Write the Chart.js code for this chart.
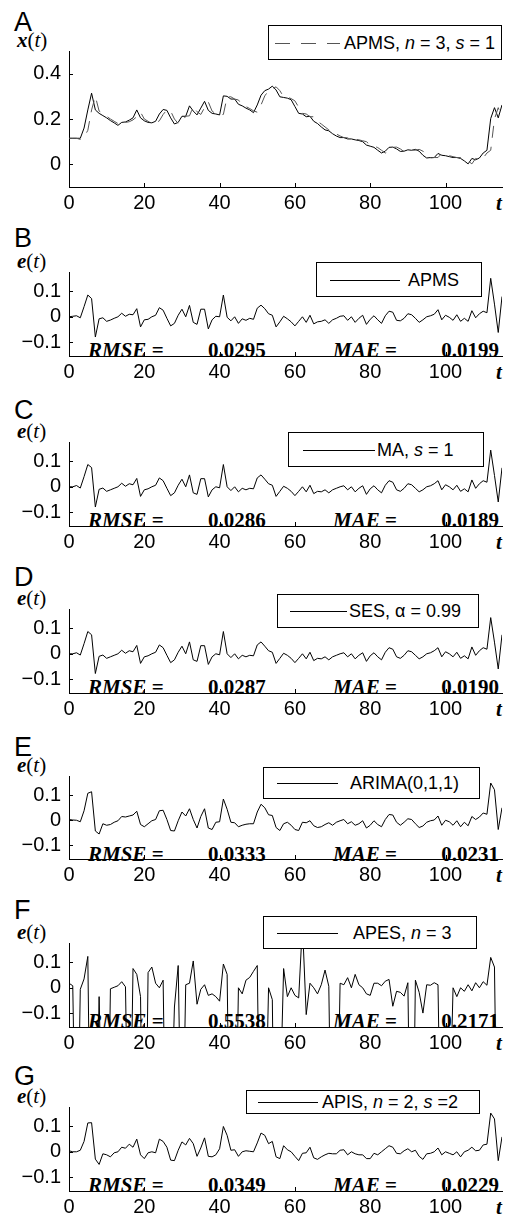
<!DOCTYPE html>
<html>
<head>
<meta charset="utf-8">
<script src="https://cdn.jsdelivr.net/npm/chart.js@4.4.0/dist/chart.umd.min.js"></script>
<style>
  body { margin: 0; background: #fff; }
  #fig { position: relative; width: 510px; height: 1218px; overflow: hidden; font-family: 'Liberation Sans', Arial, sans-serif; color: #000; }
  .cv { position: absolute; left: 0; z-index: 1; }
  .letter { position: absolute; left: 14px; font-size: 27px; line-height: 1; z-index: 0; }
  .ylab { position: absolute; left: 17px; font-family: 'Liberation Serif', serif; font-size: 21px; line-height: 1; white-space: nowrap; }
  .tlab { position: absolute; left: 496px; font: bold italic 21px 'Liberation Serif', serif; line-height: 1; }
  .stat { position: absolute; font: bold 21px 'Liberation Serif', serif; line-height: 1; z-index: 0; white-space: nowrap; }
  .leg { position: absolute; z-index: 2; background: #fff; border: 1px solid #000; box-sizing: border-box; }
  .leg .ln { position: absolute; top: 50%; height: 0; border-top: 1px solid #000; }
  .leg .dl { position: absolute; top: 50%; height: 1px; background: repeating-linear-gradient(to right, #555 0 15px, transparent 15px 26px); }
  .leg .tx { position: absolute; top: 50%; transform: translateY(-50%); font-size: 18px; line-height: 1; white-space: nowrap; }
</style>
</head>
<body>
<div id="fig"></div>
<script>
// time steps and tick values
const steps = Array.from({ length: 116 }, (_, i) => i);
const xTickVals = [0, 20, 40, 60, 80, 100];
const yTicksX = [0, 0.2, 0.4];
const yTicksE = [-0.1, 0, 0.1];

// panel A: series x(t) and APMS forecast (dashed)
const seriesX = [
  0.115, 0.115, 0.115, 0.115, 0.16, 0.24, 0.314, 0.24, 0.225, 0.215,
  0.205, 0.193, 0.183, 0.172, 0.185, 0.187, 0.195, 0.205, 0.24, 0.205,
  0.192, 0.185, 0.183, 0.19, 0.222, 0.242, 0.238, 0.205, 0.178, 0.185,
  0.212, 0.212, 0.258, 0.235, 0.218, 0.248, 0.278, 0.238, 0.225, 0.222,
  0.218, 0.302, 0.3, 0.288, 0.288, 0.265, 0.258, 0.248, 0.24, 0.228,
  0.262, 0.305, 0.325, 0.332, 0.345, 0.328, 0.298, 0.295, 0.292, 0.285,
  0.255, 0.225, 0.222, 0.21, 0.212, 0.19, 0.18, 0.165, 0.152, 0.148,
  0.135, 0.125, 0.118, 0.118, 0.112, 0.112, 0.108, 0.105, 0.1, 0.085,
  0.08, 0.075, 0.062, 0.05, 0.058, 0.075, 0.076, 0.068, 0.057, 0.058,
  0.064, 0.062, 0.066, 0.058, 0.04, 0.028, 0.03, 0.03, 0.048, 0.04,
  0.038, 0.034, 0.03, 0.03, 0.026, 0.015, 0.002, 0.026, 0.02, 0.028,
  0.05, 0.062, 0.202, 0.25, 0.205, 0.262
];
const forecastAPMS = [
  0.115, 0.115, 0.115, 0.11, 0.12, 0.15, 0.24, 0.3, 0.235, 0.225,
  0.212, 0.2, 0.19, 0.18, 0.172, 0.185, 0.188, 0.196, 0.21, 0.23,
  0.2, 0.19, 0.182, 0.183, 0.192, 0.22, 0.24, 0.235, 0.2, 0.18,
  0.188, 0.212, 0.214, 0.255, 0.232, 0.22, 0.25, 0.275, 0.235, 0.222,
  0.218, 0.22, 0.298, 0.298, 0.288, 0.284, 0.262, 0.255, 0.246, 0.236,
  0.23, 0.262, 0.302, 0.325, 0.333, 0.342, 0.325, 0.298, 0.296, 0.29,
  0.28, 0.252, 0.225, 0.222, 0.21, 0.21, 0.19, 0.178, 0.165, 0.152,
  0.146, 0.134, 0.125, 0.118, 0.117, 0.112, 0.112, 0.108, 0.104, 0.1,
  0.085, 0.08, 0.074, 0.062, 0.05, 0.058, 0.075, 0.076, 0.068, 0.056,
  0.058, 0.064, 0.062, 0.066, 0.058, 0.04, 0.028, 0.03, 0.03, 0.048,
  0.04, 0.038, 0.034, 0.03, 0.03, 0.026, 0.015, 0.002, 0.026, 0.02,
  0.028, 0.05, 0.062, 0.2, 0.25, 0.205
];

// panels B-G: forecast errors e(t)
const errAPMS = [
  0.0, 0.002, 0.004, -0.004, 0.04, 0.086, 0.072, -0.08, -0.008, -0.004,
  -0.018, -0.013, -0.006, 0.0, 0.014, 0.002, 0.01, 0.008, 0.032, -0.04,
  -0.012, -0.01, 0.0, 0.006, 0.036, 0.026, -0.006, -0.036, -0.026, 0.006,
  0.03, 0.0, 0.045, -0.022, -0.03, 0.03, 0.03, -0.048, -0.012, 0.002,
  0.0, 0.086, -0.002, -0.016, 0.0, -0.026, -0.008, -0.014, -0.006, -0.01,
  0.034, 0.046, 0.032, 0.012, 0.006, -0.04, -0.02, 0.002, -0.008, -0.02,
  -0.036, -0.018, 0.0, -0.022, 0.006, -0.028, -0.02, -0.018, -0.012, -0.026,
  -0.012, -0.006, 0.002, 0.004, -0.014, 0.0, -0.022, -0.006, 0.006, -0.03,
  -0.01, 0.004, -0.012, -0.026, 0.004, 0.022, 0.018, -0.014, -0.016, -0.006,
  0.012, 0.008, -0.006, -0.022, -0.012, 0.0, 0.004, 0.01, 0.028, -0.012,
  0.006, -0.002, -0.014, 0.008, -0.018, -0.006, -0.018, 0.024, -0.004, 0.012,
  0.022, 0.016, 0.152, 0.05, -0.062, 0.08
];
const errMA = [
  0.0, 0.0, 0.005, -0.005, 0.04, 0.088, 0.076, -0.08, -0.01, -0.005,
  -0.018, -0.012, -0.006, 0.0, 0.014, 0.002, 0.012, 0.008, 0.033, -0.038,
  -0.012, -0.008, 0.0, 0.006, 0.035, 0.024, -0.006, -0.035, -0.024, 0.006,
  0.03, 0.0, 0.047, -0.024, -0.03, 0.032, 0.032, -0.04, -0.012, 0.0,
  -0.004, 0.088, 0.0, -0.015, 0.0, -0.02, -0.006, -0.012, -0.006, -0.008,
  0.035, 0.047, 0.03, 0.012, 0.006, -0.038, -0.018, 0.002, -0.006, -0.018,
  -0.035, -0.018, 0.0, -0.02, 0.006, -0.027, -0.018, -0.02, -0.012, -0.024,
  -0.012, -0.006, 0.0, 0.004, -0.012, 0.0, -0.02, -0.006, 0.004, -0.03,
  -0.008, 0.004, -0.012, -0.024, 0.006, 0.024, 0.018, -0.012, -0.018, -0.006,
  0.012, 0.008, -0.006, -0.02, -0.012, 0.0, 0.004, 0.012, 0.024, -0.012,
  0.008, 0.0, -0.012, 0.006, -0.018, -0.008, -0.02, 0.027, -0.006, 0.012,
  0.024, 0.018, 0.145, 0.045, -0.06, 0.075
];
const errSES = [
  0.0, 0.0, 0.004, -0.005, 0.04, 0.088, 0.075, -0.078, -0.01, -0.005,
  -0.018, -0.012, -0.006, 0.0, 0.014, 0.002, 0.012, 0.008, 0.033, -0.038,
  -0.012, -0.008, 0.0, 0.006, 0.035, 0.024, -0.006, -0.035, -0.024, 0.006,
  0.03, 0.0, 0.047, -0.024, -0.03, 0.032, 0.032, -0.042, -0.012, 0.0,
  -0.004, 0.088, 0.0, -0.015, 0.0, -0.02, -0.006, -0.012, -0.006, -0.008,
  0.035, 0.047, 0.03, 0.012, 0.006, -0.038, -0.018, 0.002, -0.006, -0.018,
  -0.035, -0.018, 0.0, -0.02, 0.006, -0.027, -0.018, -0.02, -0.012, -0.024,
  -0.012, -0.006, 0.0, 0.004, -0.012, 0.0, -0.02, -0.006, 0.004, -0.03,
  -0.008, 0.004, -0.012, -0.024, 0.006, 0.024, 0.018, -0.012, -0.018, -0.006,
  0.012, 0.008, -0.006, -0.02, -0.012, 0.0, 0.004, 0.012, 0.024, -0.012,
  0.008, 0.0, -0.012, 0.006, -0.018, -0.008, -0.02, 0.027, -0.006, 0.012,
  0.024, 0.018, 0.143, 0.046, -0.06, 0.075
];
const errARIMA = [
  0.003, 0.001, 0.0, -0.006, 0.038, 0.108, 0.114, -0.043, -0.055, -0.014,
  -0.02, -0.017, -0.008, -0.002, 0.015, 0.013, 0.017, 0.021, 0.036, -0.017,
  -0.026, -0.014, -0.002, 0.003, 0.038, 0.04, 0.003, -0.041, -0.043, -0.002,
  0.033, 0.017, 0.046, 0.003, -0.031, 0.015, 0.046, -0.031, -0.037, -0.008,
  -0.006, 0.085, 0.044, -0.008, -0.01, -0.026, -0.02, -0.016, -0.014, -0.014,
  0.033, 0.064, 0.05, 0.022, 0.019, -0.029, -0.041, -0.014, -0.008, -0.02,
  -0.037, -0.041, -0.008, -0.01, -0.002, -0.022, -0.029, -0.026, -0.017, -0.01,
  -0.02, -0.008, -0.002, 0.003, -0.014, -0.006, -0.02, -0.014, -0.002, -0.031,
  -0.02, -0.002, -0.017, -0.026, 0.003, 0.023, 0.021, -0.008, -0.02, -0.008,
  0.006, 0.003, -0.014, -0.029, -0.023, -0.008, -0.002, 0.001, 0.017, -0.02,
  0.0, -0.006, -0.02, -0.002, -0.026, -0.008, -0.022, 0.015, 0.003, 0.013,
  0.029, 0.024, 0.149, 0.122, -0.037, 0.05
];
const errAPES = [
  0.018, 0.008, -0.9, -0.006, 0.035, 0.124, -1.1, -0.8, -0.035, -0.7,
  -1.0, -0.004, 0.002, 0.008, 0.024, 0.004, -0.9, 0.076, 0.053, -0.035,
  -1.2, 0.06, 0.082, 0.018, 0.0, 0.03, -1.0, -0.6, -0.076, 0.088,
  -0.8, 0.012, 0.018, 0.106, -0.065, -0.006, 0.012, -0.03, -0.024, -0.035,
  -0.053, 0.094, 0.053, -1.1, -0.9, 0.0, -0.024, 0.03, 0.041, 0.065,
  0.088, -1.0, -0.7, 0.0, -0.047, -1.3, -0.5, 0.076, -0.035, 0.0,
  -0.03, -0.04, 0.25, -0.106, 0.018, 0.0, -0.024, 0.012, 0.07, 0.006,
  -1.0, -0.8, 0.018, 0.012, 0.04, 0.0, 0.053, 0.012, 0.0, -0.024,
  -0.03, 0.018, 0.018, 0.008, 0.026, 0.033, -0.073, -0.014, -0.018, -0.033,
  0.02, -1.1, 0.03, -0.018, -0.1, 0.012, 0.01, 0.02, 0.012, -0.9,
  -1.2, -0.6, 0.0, -0.035, 0.0, -0.014, 0.012, -0.012, 0.02, 0.0,
  0.024, 0.01, 0.12, 0.082, -1.0, -0.7
];
const errAPIS = [
  0.004, 0.0, 0.0, 0.006, 0.041, 0.114, 0.115, -0.029, -0.05, -0.008,
  -0.012, -0.02, -0.004, 0.0, 0.018, 0.014, 0.03, 0.018, 0.05, -0.012,
  -0.027, -0.004, 0.0, -0.004, 0.05, 0.041, 0.018, -0.033, -0.035, 0.006,
  0.039, 0.027, 0.053, 0.032, -0.018, 0.015, 0.055, -0.018, -0.02, -0.012,
  0.012, 0.1, 0.065, 0.006, 0.008, -0.018, 0.0, 0.004, 0.002, 0.0,
  0.035, 0.074, 0.065, 0.032, 0.041, -0.02, -0.027, 0.024, 0.008, 0.0,
  -0.018, -0.035, -0.006, -0.004, 0.018, -0.024, -0.03, -0.02, -0.012, -0.006,
  -0.008, -0.008, 0.006, 0.008, -0.012, 0.0, -0.008, -0.012, -0.012, -0.027,
  -0.027, -0.006, -0.012, 0.0, 0.012, 0.024, 0.018, -0.006, -0.008, 0.004,
  0.012, 0.0, 0.006, -0.018, -0.03, -0.008, -0.006, 0.0, 0.015, -0.012,
  0.0, -0.006, -0.012, 0.0, -0.02, 0.0, 0.006, 0.018, 0.004, 0.006,
  0.027, 0.03, 0.153, 0.13, -0.035, 0.059
];

const legendText = [
  'APMS, <i>n</i> = 3, <i>s</i> = 1',
  'APMS',
  'MA, <i>s</i> = 1',
  'SES, \u03b1 = 0.99',
  'ARIMA(0,1,1)',
  'APES, <i>n</i> = 3',
  'APIS, <i>n</i> = 2, <i>s</i> =2'
];
const rmseVals = ['0.0295', '0.0286', '0.0287', '0.0333', '0.5538', '0.0349'];
const maeVals = ['0.0199', '0.0189', '0.0190', '0.0231', '0.2171', '0.0229'];

// layout of each panel (pixels)
const panels = [
  { letter: 'A', top: 41, h: 146, min: -0.1, max: 0.5, yTicks: yTicksX, series: [forecastAPMS, seriesX], dashFirst: true,
    base: 32, leg: { x: 268, y: 25, w: 234, h: 35, l0: 275, l1: 340, tx: 344 } },
  { letter: 'B', top: 262, h: 94, series: [errAPMS], base: 248, leg: { x: 316, y: 262, w: 166, h: 35, l0: 330, l1: 400, tx: 408 } },
  { letter: 'C', top: 432, h: 94, series: [errMA], base: 420, leg: { x: 288, y: 432, w: 196, h: 35, l0: 303, l1: 375, tx: 377 } },
  { letter: 'D', top: 599, h: 94, series: [errSES], base: 587, leg: { x: 277, y: 594, w: 202, h: 34, l0: 290, l1: 347, tx: 349 } },
  { letter: 'E', top: 766, h: 93, series: [errARIMA], base: 757, leg: { x: 263, y: 767, w: 217, h: 32, l0: 277, l1: 338, tx: 350 } },
  { letter: 'F', top: 933, h: 94, series: [errAPES], base: 920, leg: { x: 263, y: 916, w: 214, h: 33, l0: 277, l1: 338, tx: 353 } },
  { letter: 'G', top: 1097, h: 94, series: [errAPIS], base: 1086, leg: { x: 246, y: 1090, w: 234, h: 24, l0: 258, l1: 318, tx: 322 } }
];

const fig = document.getElementById('fig');
const PAD_TOP = 10;
const X_AREA = 36;

const innerTicks = {
  id: 'innerTicks',
  afterDraw(chart) {
    const { ctx, chartArea: a, scales: { x, y } } = chart;
    ctx.save();
    ctx.strokeStyle = '#000';
    ctx.lineWidth = 1;
    ctx.beginPath();
    x.ticks.forEach(t => {
      const px = Math.round(x.getPixelForValue(t.value)) + 0.5;
      ctx.moveTo(px, a.bottom);
      ctx.lineTo(px, a.bottom - 4);
    });
    y.ticks.forEach(t => {
      const py = Math.round(y.getPixelForValue(t.value)) + 0.5;
      ctx.moveTo(a.left, py);
      ctx.lineTo(a.left + 4, py);
    });
    ctx.stroke();
    ctx.restore();
  }
};

function fmt(v) {
  const s = String(Math.round(v * 100) / 100);
  return v < 0 ? '\u2212' + s.slice(1) : s;
}

function add(cls, css, html) {
  const d = document.createElement('div');
  d.className = cls;
  Object.assign(d.style, css);
  d.innerHTML = html;
  fig.appendChild(d);
  return d;
}

panels.forEach((p, i) => {
  const isA = i === 0;
  const yMin = isA ? p.min : -0.155;
  const yMax = isA ? p.max : 0.177;
  const yTicks = p.yTicks || yTicksE;

  // text around the axes
  add('letter', { top: (p.base - 23) + 'px' }, p.letter);
  add('ylab', { top: (p.top - 11) + 'px' }, isA ? '<b><i>x</i></b>(<i>t</i>)' : '<b><i>e</i></b>(<i>t</i>)');
  add('tlab', { top: (p.top + p.h + 6) + 'px' }, 't');

  if (!isA) {
    const sy = (p.top + 78) + 'px';
    add('stat', { top: sy, left: '88px' }, '<i>RMSE</i> =');
    add('stat', { top: sy, left: '208px' }, rmseVals[i - 1]);
    add('stat', { top: sy, left: '333px' }, '<i>MAE</i> =');
    add('stat', { top: sy, right: '11px' }, maeVals[i - 1]);
  }

  // legend box
  const L = p.leg;
  const leg = add('leg', { left: L.x + 'px', top: L.y + 'px', width: L.w + 'px', height: L.h + 'px' }, '');
  const ln = document.createElement('span');
  ln.className = isA ? 'dl' : 'ln';
  ln.style.left = (L.l0 - L.x - 1) + 'px';
  ln.style.width = (L.l1 - L.l0) + 'px';
  leg.appendChild(ln);
  const tx = document.createElement('span');
  tx.className = 'tx';
  tx.style.left = (L.tx - L.x - 1) + 'px';
  tx.innerHTML = legendText[i];
  leg.appendChild(tx);

  // chart canvas
  const cv = document.createElement('canvas');
  cv.className = 'cv';
  cv.width = 510;
  cv.height = p.h + PAD_TOP + X_AREA;
  cv.style.top = (p.top - PAD_TOP) + 'px';
  fig.appendChild(cv);

  const datasets = p.series.map((s, k) => {
    const dashed = p.dashFirst && k === 0;
    return {
      data: s,
      borderColor: dashed ? '#555' : '#000',
      borderWidth: 1,
      borderDash: dashed ? [12, 9] : [],
      pointRadius: 0,
      tension: 0,
      fill: false
    };
  });

  new Chart(cv, {
    type: 'line',
    data: { labels: steps, datasets },
    options: {
      responsive: false,
      animation: false,
      devicePixelRatio: 1,
      layout: { padding: { top: PAD_TOP, right: 8, left: 0, bottom: 0 } },
      plugins: { legend: { display: false }, tooltip: { enabled: false } },
      scales: {
        x: {
          type: 'linear',
          min: 0,
          max: 115,
          afterBuildTicks: s => { s.ticks = xTickVals.map(v => ({ value: v })); },
          afterFit: s => { s.height = X_AREA; },
          grid: { display: false, drawTicks: false },
          border: { display: true, color: '#000', width: 1 },
          ticks: { color: '#000', padding: 4, maxRotation: 0, font: { family: 'Liberation Sans', size: 20 }, callback: v => fmt(v) }
        },
        y: {
          min: yMin,
          max: yMax,
          afterBuildTicks: s => { s.ticks = yTicks.map(v => ({ value: v })); },
          afterFit: s => { s.width = 69; },
          grid: { display: false, drawTicks: false },
          border: { display: true, color: '#000', width: 1 },
          ticks: { color: '#000', padding: 8, font: { family: 'Liberation Sans', size: 20 }, callback: v => fmt(v) }
        }
      }
    },
    plugins: [innerTicks]
  });
});
</script>
</body>
</html>
